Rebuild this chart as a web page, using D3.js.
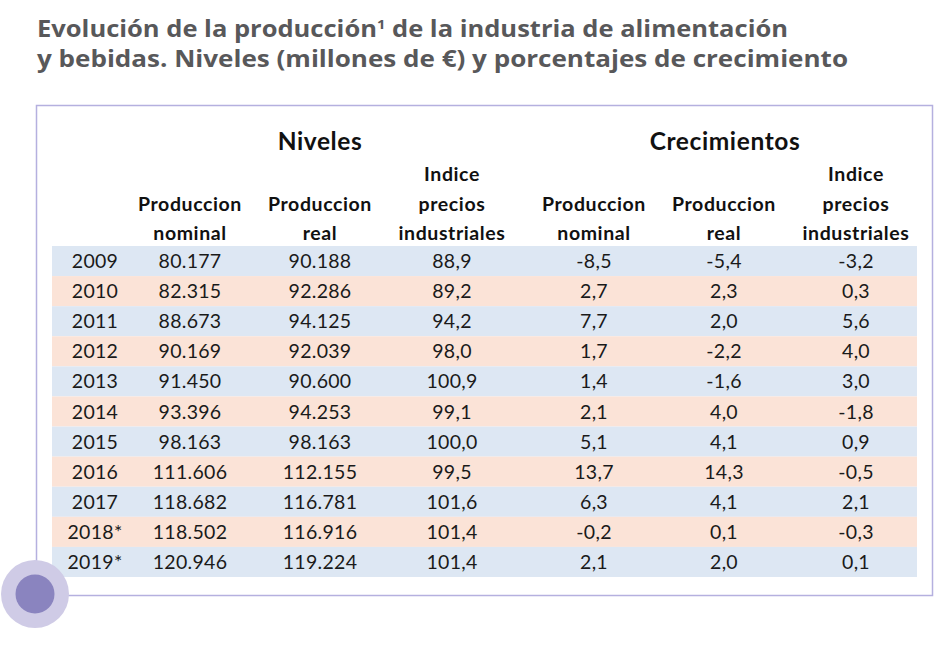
<!DOCTYPE html>
<html><head><meta charset="utf-8">
<script src="https://cdn.jsdelivr.net/npm/d3@7"></script>
<style>body{margin:0;background:#fff}svg{display:block}</style>
</head><body>
<script>
const years = ["2009","2010","2011","2012","2013","2014","2015","2016","2017","2018*","2019*"];
const prodNominal = ["80.177","82.315","88.673","90.169","91.450","93.396","98.163","111.606","118.682","118.502","120.946"];
const prodReal = ["90.188","92.286","94.125","92.039","90.600","94.253","98.163","112.155","116.781","116.916","119.224"];
const indicePrecios = ["88,9","89,2","94,2","98,0","100,9","99,1","100,0","99,5","101,6","101,4","101,4"];
const crecNominal = ["-8,5","2,7","7,7","1,7","1,4","2,1","5,1","13,7","6,3","-0,2","2,1"];
const crecReal = ["-5,4","2,3","2,0","-2,2","-1,6","4,0","4,1","14,3","4,1","0,1","2,0"];
const crecPrecios = ["-3,2","0,3","5,6","4,0","3,0","-1,8","0,9","-0,5","2,1","-0,3","0,1"];
const groupLabels = ["Niveles","Crecimientos"];
const colHeaders = [
  [""],
  ["Produccion","nominal"],
  ["Produccion","real"],
  ["Indice","precios","industriales"],
  ["Produccion","nominal"],
  ["Produccion","real"],
  ["Indice","precios","industriales"]
];
const titleLines = ["Evolución de la producción", "y bebidas. Niveles (millones de €) y porcentajes de crecimiento"];

const W = 938, H = 646;
const svg = d3.select("body").append("svg").attr("width", W).attr("height", H);

// title
const t1 = svg.append("text").attr("x", 37).attr("y", 37)
  .attr("font-family","'Open Sans', sans-serif").attr("font-weight",700)
  .attr("font-size",22.5).attr("fill","#58585a")
  .attr("textLength", 751).attr("lengthAdjust","spacingAndGlyphs");
t1.append("tspan").text(titleLines[0]);
t1.append("tspan").attr("font-size",13).attr("dy",-8).text("1");
t1.append("tspan").attr("dy",8).text(" de la industria de alimentación");
svg.append("text").attr("x", 37).attr("y", 67)
  .attr("font-family","'Open Sans', sans-serif").attr("font-weight",700)
  .attr("font-size",22.5).attr("fill","#58585a")
  .attr("textLength", 811).attr("lengthAdjust","spacingAndGlyphs")
  .text(titleLines[1]);

// box
svg.append("rect").attr("x",36.5).attr("y",105.5).attr("width",896).attr("height",490)
  .attr("fill","#fff").attr("stroke","#b5b0df").attr("stroke-width",1.5);

// scales
const columns = [years, prodNominal, prodReal, indicePrecios, crecNominal, crecReal, crecPrecios];
const x = d3.scaleOrdinal().domain(d3.range(7)).range([95, 190, 320, 452, 594, 724, 856]);
const y = d3.scaleBand().domain(years).range([246, 577]).padding(0);
const rowColor = d3.scaleOrdinal().domain([0,1]).range(["#dde7f3","#fbe3d7"]);

const g = svg.append("g");
g.selectAll("rect.row").data(years).join("rect")
  .attr("x", 52).attr("width", 865)
  .attr("y", d => y(d)).attr("height", y.bandwidth())
  .attr("fill", (d,i) => rowColor(i % 2));

const font = "Lato, 'Liberation Sans', sans-serif";
columns.forEach((col, ci) => {
  g.selectAll(null).data(col).join("text")
    .attr("x", x(ci)).attr("y", (d,i) => y(years[i]) + y.bandwidth()/2 + 7)
    .attr("text-anchor","middle").attr("font-family", font).attr("font-size",19.5)
    .attr("letter-spacing", 0.3)
    .attr("fill","#1a1a1a").text(d => d);
});

// headers
const groupX = d3.scaleOrdinal().domain(groupLabels).range([320, 725]);
g.selectAll("text.grp").data(groupLabels).join("text")
  .attr("x", d => groupX(d)).attr("y", 150).attr("text-anchor","middle")
  .attr("font-family", font).attr("font-weight",700).attr("font-size",24.5)
  .attr("letter-spacing", 0.6)
  .attr("fill","#111").text(d => d);

const lineY = d3.scalePoint().domain([0,1,2]).range([181, 240]);
colHeaders.forEach((h, ci) => {
  const offset = 3 - h.length;
  g.selectAll(null).data(h).join("text")
    .attr("x", x(ci)).attr("y", (d,i) => lineY(i + offset))
    .attr("text-anchor","middle").attr("font-family", font).attr("font-weight",700)
    .attr("font-size",19.5).attr("letter-spacing", 0.6)
    .attr("fill","#111").text(d => d);
});

// decorative circle
svg.append("circle").attr("cx",35).attr("cy",594).attr("r",34).attr("fill","#cfcbe6");
svg.append("circle").attr("cx",35).attr("cy",594).attr("r",19.5).attr("fill","#8a84bf");
</script>
</body></html>
